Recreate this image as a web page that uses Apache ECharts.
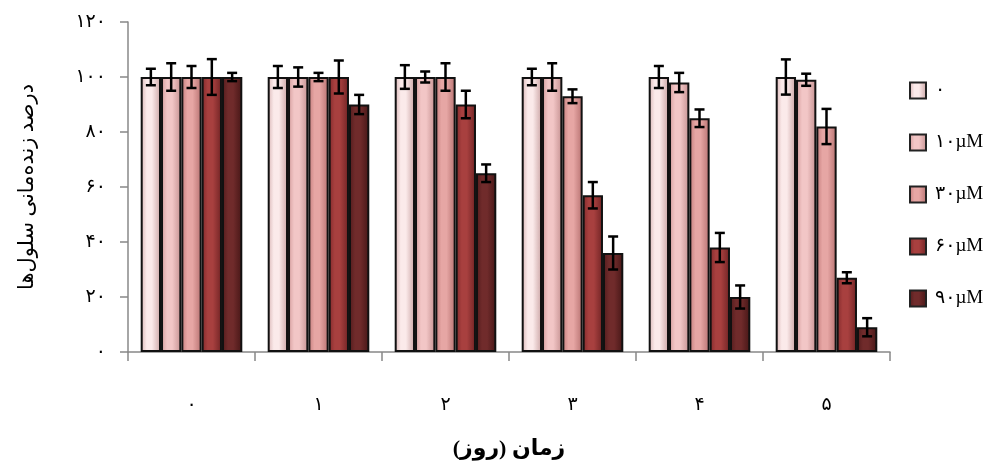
<!DOCTYPE html>
<html>
<head>
<meta charset="utf-8">
<script src="https://cdn.jsdelivr.net/npm/echarts@6/dist/echarts.min.js"></script>
<style>
html,body{margin:0;padding:0;background:#fff;}
#chart{width:1003px;height:465px;}
</style>
</head>
<body>
<div id="chart"></div>
<script>
const categories = ['۰','۱','۲','۳','۴','۵'];
const seriesNames = ['۰','۱۰µM','۳۰µM','۶۰µM','۹۰µM'];
const v0  = [100,100,100,100,100,100];
const v10 = [100,100,100,100,98,99];
const v30 = [100,100,100,93,85,82];
const v60 = [100,100,90,57,38,27];
const v90 = [100,90,65,36,20,9];
const e0  = [3,4,4.3,3,4,6.4];
const e10 = [5,3.5,2,5,3.5,2.2];
const e30 = [4,1.5,5,2.5,3.2,6.4];
const e60 = [6.5,6,5,4.8,5.3,2];
const e90 = [1.5,3.5,3.2,6,4.2,3.3];
const persianDigits = ['۰','۱','۲','۳','۴','۵','۶','۷','۸','۹'];

const values = [v0, v10, v30, v60, v90];
const errors = [e0, e10, e30, e60, e90];
const baseColors = [
  ['#d8b4b4','#fbeaea','#caa3a3'],
  ['#d49c9c','#f2c6c6','#c49090'],
  ['#c37c7b','#e6a6a4','#b67170'],
  ['#82292b','#a8403f','#6f2324'],
  ['#521b1c','#702b2b','#451616']
];
const toFa = v => String(v).replace(/\d/g, d => persianDigits[+d]);
const FONT = "'Liberation Serif', 'DejaVu Sans', serif";
const BAR_GAP_RATIO = 0.2;

function grad(c){
  return new echarts.graphic.LinearGradient(0,0,1,0,[
    {offset:0,color:c[0]},{offset:0.3,color:c[1]},{offset:0.55,color:c[1]},{offset:1,color:c[2]}
  ]);
}

const barSeries = values.map((vals, s) => ({
  name: seriesNames[s],
  type: 'bar',
  data: vals,
  barGap: '0%',
  barCategoryGap: (BAR_GAP_RATIO*100)+'%',
  itemStyle: { color: grad(baseColors[s]), borderColor: '#111', borderWidth: 2 },
  emphasis: { disabled: true }
}));

const errData = [];
values.forEach((vals, s) => vals.forEach((v, c) => {
  errData.push([c, s, v - errors[s][c], v + errors[s][c]]);
}));

const errSeries = {
  type: 'custom',
  name: 'err',
  z: 10,
  data: errData,
  renderItem: function(params, api){
    const c = api.value(0), s = api.value(1);
    const band = api.size([1,0])[0];
    const bw = band*(1-BAR_GAP_RATIO)/values.length;
    const xc = api.coord([c, 0])[0] + (s - (values.length-1)/2)*bw;
    const lo = api.coord([c, api.value(2)])[1];
    const hi = api.coord([c, api.value(3)])[1];
    const cap = 5;
    const style = { stroke: '#000', lineWidth: 2.5 };
    return { type: 'group', children: [
      { type:'line', shape:{x1:xc,y1:lo,x2:xc,y2:hi}, style },
      { type:'line', shape:{x1:xc-cap,y1:lo,x2:xc+cap,y2:lo}, style },
      { type:'line', shape:{x1:xc-cap,y1:hi,x2:xc+cap,y2:hi}, style }
    ]};
  }
};

const chart = echarts.init(document.getElementById('chart'));
chart.setOption({
  animation: false,
  backgroundColor: '#fff',
  grid: { left: 128, right: 113, top: 22, bottom: 108 },
  legend: {
    data: seriesNames,
    orient: 'vertical',
    left: 904, top: 76,
    icon: 'rect',
    itemWidth: 16, itemHeight: 16, itemGap: 33,
    textStyle: { fontFamily: FONT, fontSize: 19, color: '#000', padding: [0,0,0,4] },
    itemStyle: { borderColor: '#222', borderWidth: 2 }
  },
  xAxis: {
    type: 'category',
    data: categories,
    axisLine: { lineStyle: { color: '#888', width: 1.5 } },
    axisTick: { show: true, alignWithLabel: false, length: 9, lineStyle: { color: '#888', width: 1.5 } },
    axisLabel: { margin: 44, fontFamily: FONT, fontSize: 19, color: '#000' },
    name: 'زمان (روز)',
    nameLocation: 'middle',
    nameGap: 86,
    nameTextStyle: { fontFamily: FONT, fontSize: 22, fontWeight: 'bold', color: '#000' }
  },
  yAxis: {
    type: 'value',
    min: 0, max: 120, interval: 20,
    splitLine: { show: false },
    axisLine: { show: true, lineStyle: { color: '#888', width: 1.5 } },
    axisTick: { show: true, length: 8, lineStyle: { color: '#888', width: 1.5 } },
    axisLabel: { margin: 22, fontFamily: FONT, fontSize: 19, color: '#000', formatter: v => toFa(v) },
    name: 'درصد زنده‌مانی سلول‌ها',
    nameLocation: 'middle',
    nameGap: 90,
    nameTextStyle: { fontFamily: FONT, fontSize: 21, fontWeight: 'normal', color: '#000' }
  },
  series: barSeries.concat([errSeries])
});
</script>
</body>
</html>
